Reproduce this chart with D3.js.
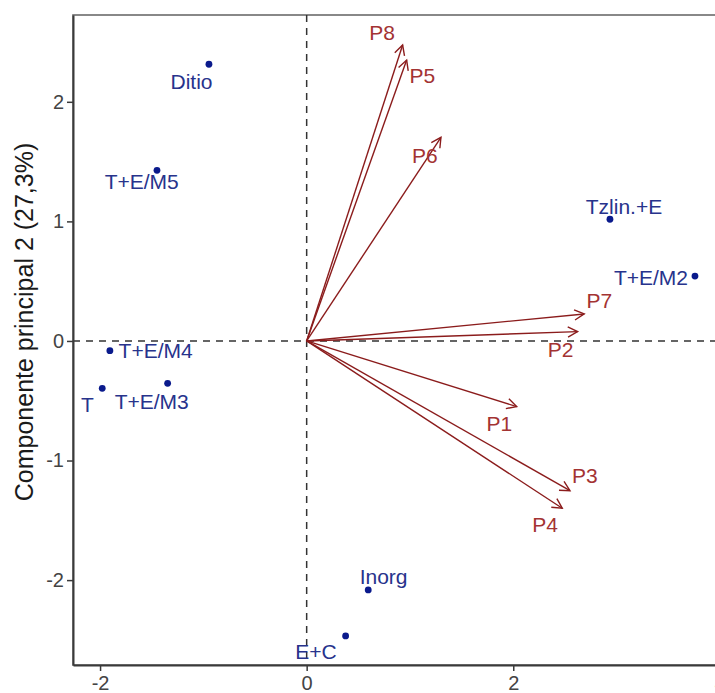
<!DOCTYPE html>
<html>
<head>
<meta charset="utf-8">
<script src="https://cdn.jsdelivr.net/npm/d3@7"></script>
<style>
  html, body { margin: 0; padding: 0; background: #fff; }
  svg { display: block; }
  text { font-family: "Liberation Sans", Arial, Helvetica, sans-serif; }
</style>
</head>
<body>
<div id="chart"></div>
<script>
// ---- Data ----
const pointNames = ["Ditio", "T+E/M5", "T+E/M4", "T", "T+E/M3", "E+C", "Inorg", "Tzlin.+E", "T+E/M2"];
const pointPC1 = [-0.946, -1.449, -1.905, -1.979, -1.346, 0.377, 0.596, 2.936, 3.759];
const pointPC2 = [2.314, 1.427, -0.081, -0.396, -0.354, -2.467, -2.082, 1.018, 0.543];
const pointLabelPC1 = [-1.115, -1.597, -1.462, -2.122, -1.500, 0.090, 0.745, 3.072, 3.333];
const pointLabelPC2 = [2.168, 1.335, -0.079, -0.531, -0.506, -2.598, -1.971, 1.129, 0.531];

const loadingNames = ["P1", "P2", "P3", "P4", "P5", "P6", "P7", "P8"];
const loadingPC1 = [2.033, 2.623, 2.549, 2.474, 0.968, 1.300, 2.687, 0.929];
const loadingPC2 = [-0.549, 0.078, -1.252, -1.399, 2.349, 1.703, 0.226, 2.475];
const loadingLabelPC1 = [1.866, 2.457, 2.694, 2.307, 1.121, 1.145, 2.834, 0.729];
const loadingLabelPC2 = [-0.686, -0.067, -1.125, -1.538, 2.217, 1.555, 0.336, 2.584];

const xTicks = [-2, 0, 2, 4];
const yTicks = [-2, -1, 0, 1, 2];
const yTitle = "Componente principal 2 (27,3%)";

(function () {
// ---- Layout ----
const W = 715, H = 693;
const mLeft = 73, mTop = 15, mBottom = 665;
const xDomain = [-2.262, 4.4];
const yDomain = [-2.71, 2.726];
const pxPerUnitX = 103.3;

const x = d3.scaleLinear().domain(xDomain).range([mLeft, mLeft + (xDomain[1] - xDomain[0]) * pxPerUnitX]);
const y = d3.scaleLinear().domain(yDomain).range([mBottom, mTop]);

const svg = d3.select("#chart").append("svg").attr("width", W).attr("height", H);

const pointColor = "#0a1a8c";
const pointLabelColor = "#27338c";
const arrowColor = "#8b1c1c";
const arrowLabelColor = "#a33333";
const labelSize = 21;

// panel border (top/right)
svg.append("rect")
  .attr("x", mLeft).attr("y", mTop)
  .attr("width", x.range()[1] - mLeft).attr("height", mBottom - mTop)
  .attr("fill", "none").attr("stroke", "#6b6b6b").attr("stroke-width", 1.6);

// reference dashed lines
svg.append("line")
  .attr("x1", mLeft).attr("x2", x.range()[1])
  .attr("y1", y(0)).attr("y2", y(0))
  .attr("stroke", "#333").attr("stroke-width", 1.5).attr("stroke-dasharray", "7,6");
svg.append("line")
  .attr("x1", x(0)).attr("x2", x(0))
  .attr("y1", mTop).attr("y2", mBottom)
  .attr("stroke", "#333").attr("stroke-width", 1.5).attr("stroke-dasharray", "7,6");

// axes
const xAxis = svg.append("g").attr("transform", `translate(0,${mBottom})`)
  .call(d3.axisBottom(x).tickValues(xTicks).tickFormat(d3.format("d")).tickSize(6).tickSizeOuter(0).tickPadding(5));
const yAxis = svg.append("g").attr("transform", `translate(${mLeft},0)`)
  .call(d3.axisLeft(y).tickValues(yTicks).tickFormat(d3.format("d")).tickSize(6).tickSizeOuter(0).tickPadding(3));
[xAxis, yAxis].forEach(g => {
  g.select(".domain").attr("stroke", "#3a3a3a").attr("stroke-width", 2);
  g.selectAll(".tick line").attr("stroke", "#3a3a3a").attr("stroke-width", 1.5);
  g.selectAll(".tick text").attr("fill", "#444").attr("font-size", 20)
    .style("font-family", "'Liberation Sans', Arial, sans-serif");
});
xAxis.selectAll(".tick text").text(d => d < 0 ? "-" + Math.abs(d) : d);
yAxis.selectAll(".tick text").text(d => d < 0 ? "-" + Math.abs(d) : d);

// y title
svg.append("text")
  .attr("transform", `translate(33,322) rotate(-90)`)
  .attr("text-anchor", "middle")
  .attr("font-size", 25)
  .attr("fill", "#1a1a1a")
  .text(yTitle);

// arrows (loadings)
const arrows = svg.append("g");
loadingNames.forEach((name, i) => {
  const x0 = x(0), y0 = y(0);
  const x1 = x(loadingPC1[i]), y1 = y(loadingPC2[i]);
  const ang = Math.atan2(y1 - y0, x1 - x0);
  const hl = 11, ha = Math.PI / 6.5;
  arrows.append("line")
    .attr("x1", x0).attr("y1", y0).attr("x2", x1).attr("y2", y1)
    .attr("stroke", arrowColor).attr("stroke-width", 1.4);
  arrows.append("path")
    .attr("d", `M${x1 - hl * Math.cos(ang - ha)},${y1 - hl * Math.sin(ang - ha)} L${x1},${y1} L${x1 - hl * Math.cos(ang + ha)},${y1 - hl * Math.sin(ang + ha)}`)
    .attr("fill", "none").attr("stroke", arrowColor).attr("stroke-width", 1.4);
  arrows.append("text")
    .attr("x", x(loadingLabelPC1[i])).attr("y", y(loadingLabelPC2[i]))
    .attr("dy", "0.36em")
    .attr("text-anchor", "middle")
    .attr("font-size", labelSize)
    .attr("fill", arrowLabelColor)
    .text(name);
});

// points
const pts = svg.append("g");
pointNames.forEach((name, i) => {
  pts.append("circle")
    .attr("cx", x(pointPC1[i])).attr("cy", y(pointPC2[i]))
    .attr("r", 3.4).attr("fill", pointColor);
  pts.append("text")
    .attr("x", x(pointLabelPC1[i])).attr("y", y(pointLabelPC2[i]))
    .attr("dy", "0.36em")
    .attr("text-anchor", "middle")
    .attr("font-size", labelSize)
    .attr("fill", pointLabelColor)
    .text(name);
});
})();
</script>
</body>
</html>
